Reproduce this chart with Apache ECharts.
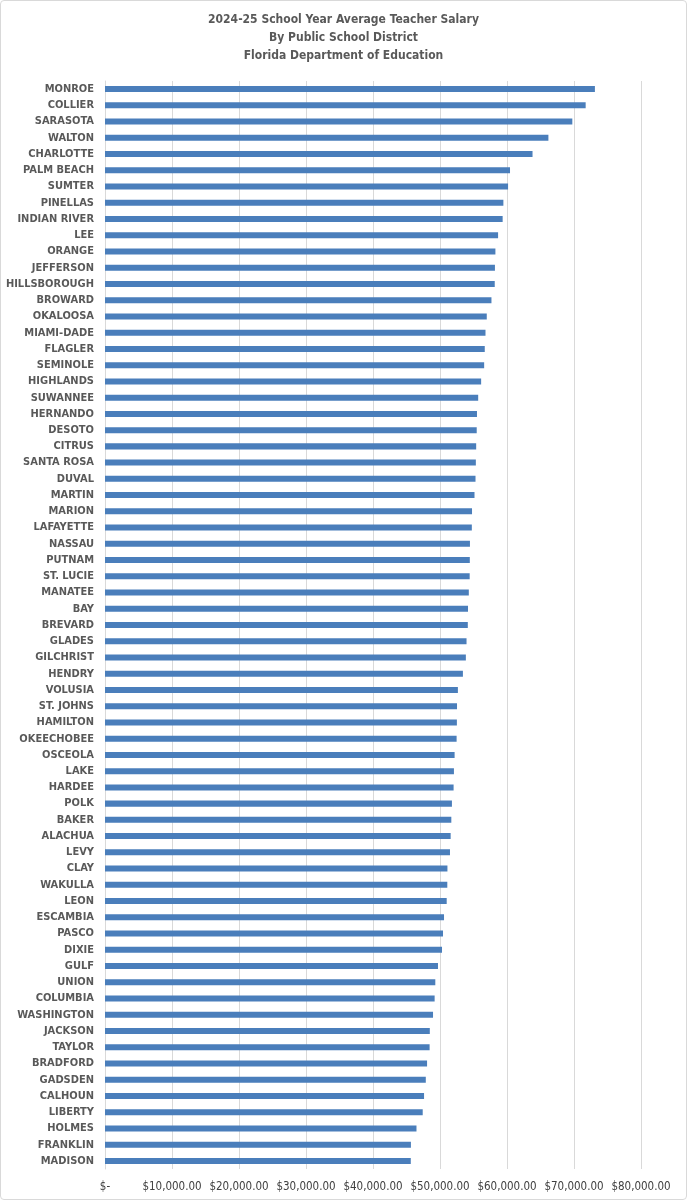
<!DOCTYPE html>
<html>
<head>
<meta charset="utf-8">
<script src="https://cdn.jsdelivr.net/npm/echarts@6/dist/echarts.min.js"></script>
<style>
  html, body { margin: 0; padding: 0; background: #fff; }
  #chart { width: 687px; height: 1200px; box-sizing: border-box; border: 1px solid #d9d9d9; border-radius: 4px; }
</style>
</head>
<body>
<div id="chart"></div>
<script>
// districts, highest salary first
var districts = ['MONROE','COLLIER','SARASOTA','WALTON','CHARLOTTE','PALM BEACH','SUMTER','PINELLAS',
  'INDIAN RIVER','LEE','ORANGE','JEFFERSON','HILLSBOROUGH','BROWARD','OKALOOSA','MIAMI-DADE','FLAGLER',
  'SEMINOLE','HIGHLANDS','SUWANNEE','HERNANDO','DESOTO','CITRUS','SANTA ROSA','DUVAL','MARTIN','MARION',
  'LAFAYETTE','NASSAU','PUTNAM','ST. LUCIE','MANATEE','BAY','BREVARD','GLADES','GILCHRIST','HENDRY',
  'VOLUSIA','ST. JOHNS','HAMILTON','OKEECHOBEE','OSCEOLA','LAKE','HARDEE','POLK','BAKER','ALACHUA','LEVY',
  'CLAY','WAKULLA','LEON','ESCAMBIA','PASCO','DIXIE','GULF','UNION','COLUMBIA','WASHINGTON','JACKSON',
  'TAYLOR','BRADFORD','GADSDEN','CALHOUN','LIBERTY','HOLMES','FRANKLIN','MADISON'];

// average teacher salary
var salaries = [73120, 71740, 69750, 66180, 63810, 60450, 60160, 59460,
  59350, 58670, 58270, 58200, 58170, 57680, 56980, 56790, 56680,
  56590, 56140, 55700, 55520, 55480, 55400, 55350, 55300, 55150, 54780,
  54750, 54470, 54450, 54430, 54300, 54180, 54150, 53960, 53860, 53420,
  52670, 52540, 52520, 52480, 52180, 52080, 52030, 51780, 51690, 51590, 51490,
  51110, 51090, 51000, 50600, 50450, 50300, 49700, 49300, 49200, 48960, 48480,
  48450, 48070, 47880, 47620, 47420, 46490, 45660, 45640];

var titleLines = ['2024-25 School Year Average Teacher Salary', 'By Public School District', 'Florida Department of Education'];

var axisMin = 0, axisMax = 80000, axisStep = 10000;

var labelFont = '"DejaVu Sans Condensed", "Liberation Sans Narrow", "Liberation Sans", sans-serif';

function money(v) {
  if (v === 0) return '$-';
  return '$' + v.toLocaleString('en-US', {minimumFractionDigits: 2, maximumFractionDigits: 2});
}

var myChart = echarts.init(document.getElementById('chart'));

var option = {
  animation: false,
  title: {
    text: titleLines.join('\n'),
    left: 'center',
    top: 5,
    textStyle: {
      color: '#595959',
      fontSize: 12,
      fontWeight: 'bold',
      lineHeight: 18,
      fontFamily: labelFont
    }
  },
  grid: { left: 104, right: 45, top: 80, bottom: 30 },
  xAxis: {
    type: 'value',
    min: axisMin,
    max: axisMax,
    interval: axisStep,
    axisLine: { show: false },
    axisTick: { show: false },
    splitLine: { show: true, lineStyle: { color: '#d9d9d9', width: 1 } },
    axisLabel: {
      formatter: money,
      color: '#404040',
      fontSize: 11.5,
      fontFamily: labelFont,
      margin: 12
    }
  },
  yAxis: {
    type: 'category',
    inverse: true,
    data: districts,
    axisTick: { show: false },
    axisLine: { show: true, lineStyle: { color: '#d9d9d9', width: 1 } },
    axisLabel: {
      color: '#595959',
      fontSize: 11,
      fontWeight: 'bold',
      fontFamily: labelFont,
      margin: 11,
      interval: 0
    }
  },
  series: [{
    type: 'bar',
    data: salaries,
    barCategoryGap: '63%',
    itemStyle: { color: '#4a7ebb' }
  }]
};

myChart.setOption(option);
</script>
</body>
</html>
